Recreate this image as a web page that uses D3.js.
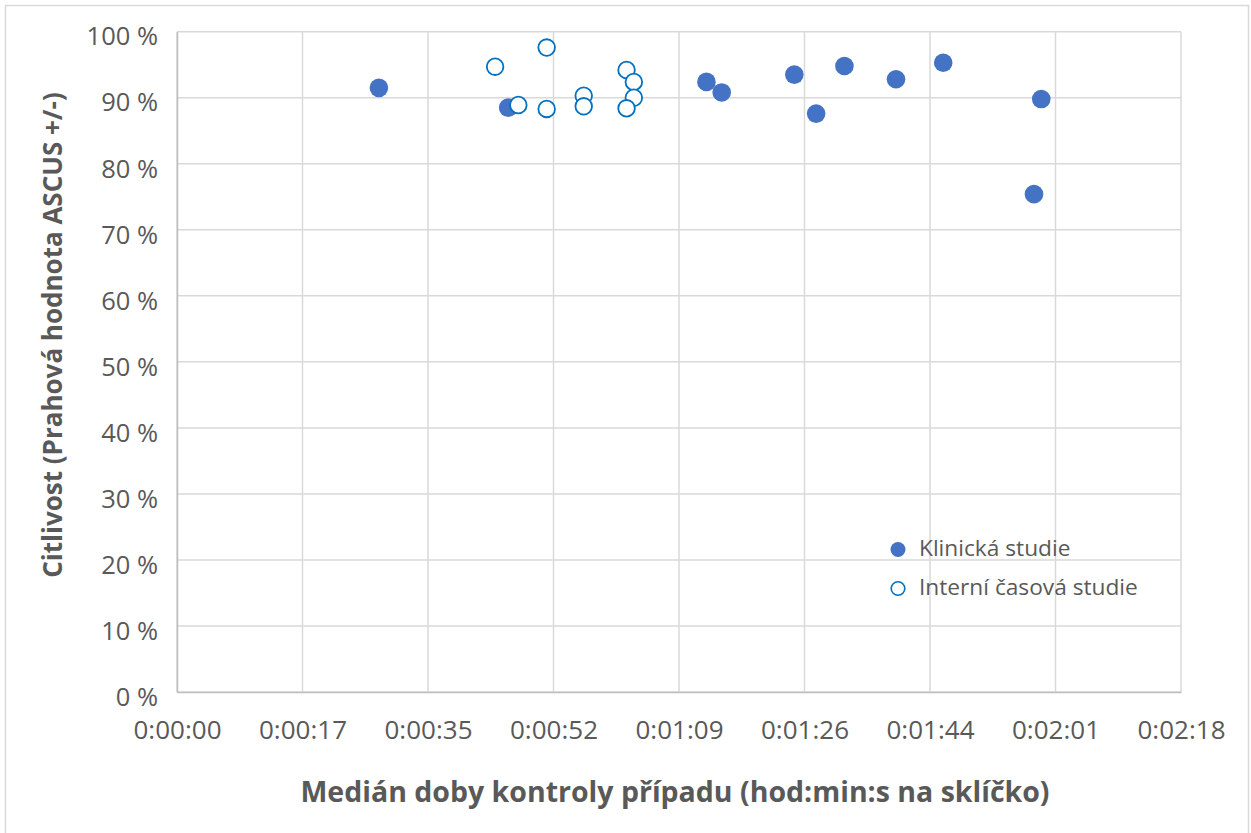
<!DOCTYPE html>
<html><head><meta charset="utf-8">
<script src="https://cdn.jsdelivr.net/npm/d3@7"></script>
<style>body{margin:0;background:#fff;} text{font-family:"Open Sans",sans-serif;}</style>
</head><body>
<svg id="c" width="1251" height="833"></svg>
<script>
// Data: x = median review time in seconds, y = sensitivity in %
const klinickaX = [27.8, 45.6, 72.9, 75.0, 85.0, 88.0, 91.9, 99.0, 105.5, 119.0, 118.0];
const klinickaY = [91.5, 88.5, 92.4, 90.8, 93.5, 87.6, 94.8, 92.8, 95.3, 89.8, 75.4];
const interniX = [43.8, 50.9, 47.0, 50.9, 56.0, 56.0, 61.9, 62.9, 62.9, 61.9];
const interniY = [94.7, 97.6, 88.9, 88.3, 90.3, 88.7, 94.2, 92.4, 90.0, 88.4];
const xTickLabels = ["0:00:00","0:00:17","0:00:35","0:00:52","0:01:09","0:01:26","0:01:44","0:02:01","0:02:18"];
const yTicks = [0,10,20,30,40,50,60,70,80,90,100];
const seriesNames = ["Klinická studie","Interní časová studie"];

const xStep = 17.28; // seconds per major unit
const xTicks = xTickLabels.map((d,i)=>i*xStep);

const svg = d3.select("#c");
const L=177, R=1181, T=31.7, B=692;
const x = d3.scaleLinear().domain([0, 8*xStep]).range([L,R]);
const y = d3.scaleLinear().domain([0,100]).range([B,T]);

// chart border
svg.append("rect").attr("x",5.5).attr("y",5.5).attr("width",1243).attr("height",840)
  .attr("fill","#fff").attr("stroke","#d9d9d9").attr("stroke-width",1.5);

// gridlines
const g = svg.append("g");
g.selectAll(".hg").data(yTicks).join("line")
  .attr("x1",L).attr("x2",R).attr("y1",d=>y(d)).attr("y2",d=>y(d))
  .attr("stroke","#d9d9d9").attr("stroke-width",1.5);
g.selectAll(".vg").data(xTicks).join("line")
  .attr("y1",T).attr("y2",B).attr("x1",d=>x(d)).attr("x2",d=>x(d))
  .attr("stroke","#d9d9d9").attr("stroke-width",1.5);

// axes via d3
const yAxis = d3.axisLeft(y).tickValues(yTicks).tickFormat(d=>d+" %").tickSize(0).tickPadding(19);
const ya = svg.append("g").attr("transform",`translate(${L},0)`).call(yAxis);
ya.select(".domain").attr("stroke","#bfbfbf").attr("stroke-width",1.5);
ya.selectAll("text").attr("font-size",25.5).attr("fill","#595959").attr("dy","0.52em").style("font-family","'Open Sans',sans-serif");

const xAxis = d3.axisBottom(x).tickValues(xTicks).tickFormat((d,i)=>xTickLabels[i]).tickSize(0).tickPadding(29);
const xa = svg.append("g").attr("transform",`translate(0,${B})`).call(xAxis);
xa.select(".domain").attr("stroke","#bfbfbf").attr("stroke-width",1.5);
xa.selectAll("text").attr("font-size",26).attr("fill","#595959").style("font-family","'Open Sans',sans-serif");

// axis titles
svg.append("text").attr("transform","translate(62,335) rotate(-90)")
  .attr("text-anchor","middle").attr("font-size",26).attr("font-weight","bold").attr("fill","#595959")
  .text("Citlivost (Prahová hodnota ASCUS +/-)");
svg.append("text").attr("x",675).attr("y",802)
  .attr("text-anchor","middle").attr("font-size",28.5).attr("font-weight","bold").attr("fill","#595959")
  .text("Medián doby kontroly případu (hod:min:s na sklíčko)");

// series
const kData = klinickaX.map((v,i)=>({x:v,y:klinickaY[i]}));
const iData = interniX.map((v,i)=>({x:v,y:interniY[i]}));
svg.append("g").selectAll("circle").data(kData).join("circle")
  .attr("cx",d=>x(d.x)).attr("cy",d=>y(d.y)).attr("r",9.3).attr("fill","#4472C4");
svg.append("g").selectAll("circle").data(iData).join("circle")
  .attr("cx",d=>x(d.x)).attr("cy",d=>y(d.y)).attr("r",8.3).attr("fill","#fff")
  .attr("stroke","#0070C0").attr("stroke-width",1.8);

// legend
const leg = svg.append("g");
leg.append("circle").attr("cx",898).attr("cy",549.5).attr("r",7.5).attr("fill","#4472C4");
leg.append("circle").attr("cx",898).attr("cy",588.5).attr("r",6.8).attr("fill","#fff").attr("stroke","#0070C0").attr("stroke-width",1.6);
leg.selectAll("text").data(seriesNames).join("text")
  .attr("x",919).attr("y",(d,i)=>556+i*39).attr("font-size",22.7).attr("fill","#595959").text(d=>d);
</script>
</body></html>
